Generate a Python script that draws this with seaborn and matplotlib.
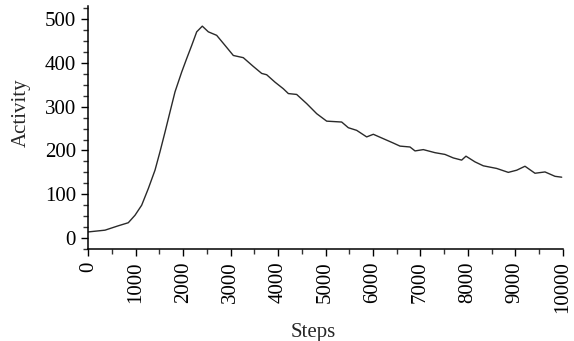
import matplotlib
matplotlib.use("Agg")
import matplotlib.pyplot as plt
from matplotlib.ticker import MultipleLocator, FixedLocator
import seaborn as sns
import pandas as pd

steps = [0, 352, 632, 843, 984, 1125, 1265, 1406, 1511, 1617, 1722, 1828, 1968,
         2074, 2180, 2285, 2403, 2530, 2706, 2867, 3057, 3267, 3478, 3655, 3760,
         3936, 4111, 4217, 4392, 4604, 4815, 5025, 5341, 5481, 5657, 5868, 6008,
         6218, 6429, 6570, 6781, 6887, 7062, 7308, 7519, 7694, 7870, 7961, 8151,
         8326, 8608, 8853, 9031, 9205, 9416, 9627, 9838, 9979]
activity = [14, 18, 28, 35, 52, 75, 113, 155, 197, 242, 288, 334, 379,
            410, 440, 471, 484, 471, 463, 442, 417, 412, 392, 376, 373,
            356, 341, 330, 328, 307, 284, 267, 265, 252, 246, 231, 237,
            227, 217, 210, 208, 199, 202, 195, 191, 183, 178, 187, 174,
            165, 159, 150, 155, 164, 148, 151, 141, 139]

x_ticks = [0, 1000, 2000, 3000, 4000, 5000, 6000, 7000, 8000, 9000, 10000]
y_ticks = [0, 100, 200, 300, 400, 500]

df = pd.DataFrame({"Steps": steps, "Activity": activity})

sns.set_style("ticks")
plt.rcParams["font.family"] = ["Liberation Serif", "DejaVu Serif"]

fig = plt.figure(figsize=(5.74, 3.41), dpi=100)
ax = fig.add_axes([88.3 / 574, (341 - 249) / 341, (562.7 - 88.3) / 574, (249 - 6) / 341])

sns.lineplot(data=df, x="Steps", y="Activity", ax=ax, color="#2a2a2a", linewidth=1.0)

ax.set_xlim(0, 10000)
ax.set_ylim(-25, 530)
ax.xaxis.set_major_locator(FixedLocator(x_ticks))
ax.xaxis.set_minor_locator(MultipleLocator(500))
ax.yaxis.set_major_locator(FixedLocator(y_ticks))
ax.yaxis.set_minor_locator(MultipleLocator(25))
ax.set_xticklabels([str(v) for v in x_ticks], rotation=90)
ax.set_yticklabels([str(v) for v in y_ticks])

for side in ["top", "right"]:
    ax.spines[side].set_visible(False)
for side in ["left", "bottom"]:
    ax.spines[side].set_color("black")
    ax.spines[side].set_linewidth(1.1)

ax.tick_params(axis="both", which="major", labelsize=15, length=5, width=1,
               color="black", labelcolor="black", direction="out", pad=4)
ax.tick_params(axis="both", which="minor", length=3.5, width=1, color="#333333",
               direction="out")

ax.set_xlabel("Steps", fontsize=15)
ax.set_ylabel("Activity", fontsize=15)
ax.xaxis.set_label_coords(0.474, -0.305)
ax.yaxis.set_label_coords(-0.122, 0.56)

fig.savefig("out.png", dpi=100)
